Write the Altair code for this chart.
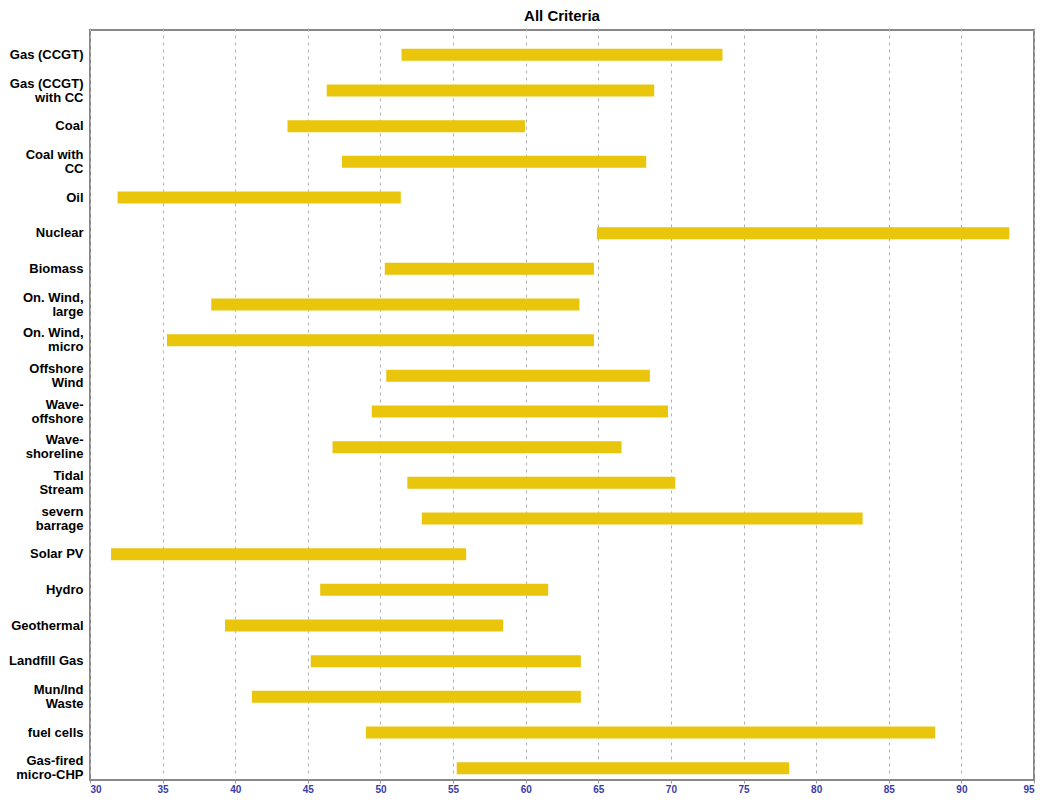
import altair as alt
import pandas as pd

technologies = [
    "Gas (CCGT)", "Gas (CCGT)|with CC", "Coal", "Coal with|CC", "Oil", "Nuclear",
    "Biomass", "On. Wind,|large", "On. Wind,|micro", "Offshore|Wind",
    "Wave-|offshore", "Wave-|shoreline", "Tidal|Stream", "severn|barrage",
    "Solar PV", "Hydro", "Geothermal", "Landfill Gas", "Mun/Ind|Waste",
    "fuel cells", "Gas-fired|micro-CHP",
]
low_scores = [51.45, 46.3, 43.6, 47.35, 31.9, 64.9, 50.3, 38.35, 35.3, 50.4,
              49.4, 46.7, 51.85, 52.85, 31.45, 45.85, 39.3, 45.2, 41.15, 49.0, 55.25]
high_scores = [73.55, 68.85, 59.95, 68.3, 51.4, 93.3, 64.7, 63.7, 64.7, 68.55,
               69.8, 66.6, 70.3, 83.2, 55.9, 61.55, 58.45, 63.8, 63.8, 88.2, 78.15]
x_ticks = list(range(30, 100, 5))

df = pd.DataFrame({"tech": technologies, "low": low_scores, "high": high_scores})

bars = alt.Chart(df).mark_bar(color="#E9C50C", size=12).encode(
    x=alt.X("low:Q", scale=alt.Scale(domain=[30, 95], nice=False, zero=False),
            axis=alt.Axis(values=x_ticks, title=None, grid=True, gridDash=[3, 4],
                          gridColor="#b0b0b0", gridWidth=1, domain=False,
                          tickSize=3, tickColor="#999999",
                          labelColor="#3a3aa8", labelFont="Liberation Sans",
                          labelFontWeight="bold", labelFontSize=10, labelPadding=1)),
    x2="high:Q",
    y=alt.Y("tech:N", sort=technologies, scale=alt.Scale(range=[7, 756]),
            axis=alt.Axis(title=None, domain=False, ticks=False, grid=False,
                          labelExpr="split(datum.label, '|')",
                          labelOffset={"condition": {"test": "indexof(datum.label, '|') >= 0",
                                                     "value": -7}, "value": 0},
                          labelColor="#000000", labelFont="Liberation Sans",
                          labelFontWeight="bold", labelFontSize=13,
                          labelLineHeight=14, labelPadding=7, labelLimit=200)),
)

chart = bars.properties(
    width=944, height=750,
    title=alt.TitleParams("All Criteria", font="Liberation Sans", fontSize=15,
                          fontWeight="bold", color="#000000", offset=6, anchor="middle"),
    autosize=alt.AutoSizeParams(type="none"),
    padding={"left": 82, "top": 22, "right": 2, "bottom": 15},
).configure(
    background="white",
    view=alt.ViewConfig(stroke="#888888", strokeWidth=2),
)

chart.save("out.html", embed_options={"renderer": "svg", "actions": False})
